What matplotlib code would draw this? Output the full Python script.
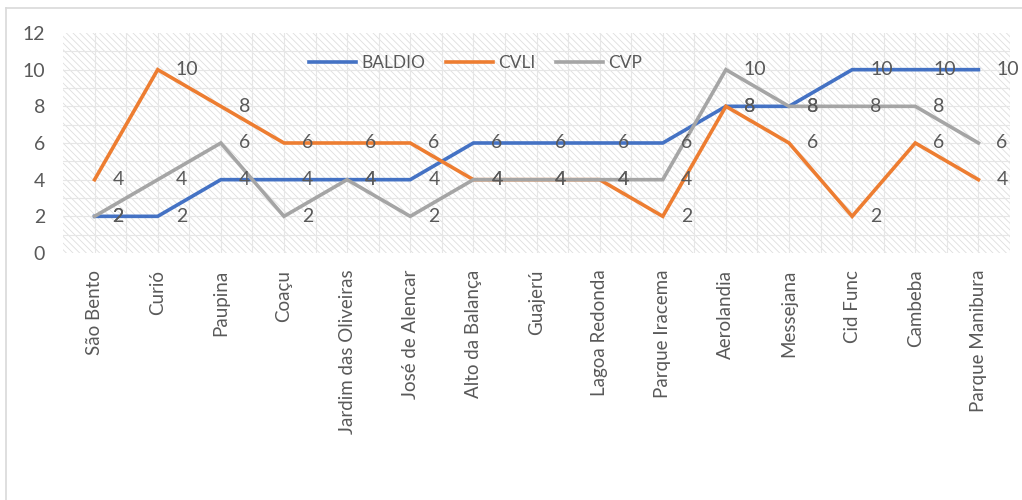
import numpy as np
import matplotlib
matplotlib.use("Agg")
import matplotlib.pyplot as plt
from matplotlib.patches import Rectangle
from matplotlib.lines import Line2D

plt.rcParams['font.family'] = ['Lato', 'DejaVu Sans']
plt.rcParams['hatch.linewidth'] = 0.6

# bairros e contagens por tipo
bairros = ["São Bento", "Curió", "Paupina", "Coaçu", "Jardim das Oliveiras",
           "José de Alencar", "Alto da Balança", "Guajerú", "Lagoa Redonda",
           "Parque Iracema", "Aerolandia", "Messejana", "Cid Func", "Cambeba",
           "Parque Manibura"]
baldio = [2, 2, 4, 4, 4, 4, 6, 6, 6, 6, 8, 8, 10, 10, 10]
cvli = [4, 10, 8, 6, 6, 6, 4, 4, 4, 2, 8, 6, 2, 6, 4]
cvp = [2, 4, 6, 2, 4, 2, 4, 4, 4, 4, 10, 8, 8, 8, 6]

series = [("BALDIO", baldio, "#4472C4"),
          ("CVLI", cvli, "#ED7D31"),
          ("CVP", cvp, "#A5A5A5")]
txt = "#595959"

fig = plt.figure(figsize=(10.22, 5.0), dpi=100)
ax = fig.add_axes([63/1022, 1-253/500, 947/1022, 220/500])

x = np.arange(len(bairros))
ax.set_xlim(-0.5, len(bairros)-0.5)
ax.set_ylim(0, 12)

# fundo hachurado da área de plotagem
ax.add_patch(Rectangle((0, 0), 1, 1, transform=ax.transAxes, facecolor="white",
                       edgecolor="#dedede", lw=0, hatch="\\\\\\\\\\", zorder=0))
for yy in np.arange(1, 12):
    ax.axhline(yy, color="#e6e6e6", lw=0.8, zorder=0.5)
for xx in np.arange(0, len(bairros), 0.5):
    ax.axvline(xx, color="#e6e6e6", lw=0.8, zorder=0.5)

for nome, vals, cor in series:
    ax.plot(x, vals, color=cor, lw=2.6, solid_joinstyle="miter", zorder=3, label=nome)
    for xi, v in zip(x, vals):
        ax.annotate(str(v), (xi, v), xytext=(13, 0), textcoords="offset points",
                    ha="left", va="center", fontsize=14, color=txt, zorder=4)

for s in ax.spines.values():
    s.set_visible(False)
ax.tick_params(length=0, colors=txt, labelsize=14)
ax.tick_params(axis="y", pad=13)
ax.tick_params(axis="x", pad=12)
ax.set_yticks(np.arange(0, 13, 2))
ax.set_xticks(x)
ax.set_xticklabels(bairros, rotation=90, va="top", ha="center", fontsize=13.5)

leg = ax.legend(loc="center", bbox_to_anchor=(0.436, 0.865), ncol=3, frameon=False,
                fontsize=12.5, handlelength=2.7, handletextpad=0.3, columnspacing=1.2)
for t in leg.get_texts():
    t.set_color(txt)

# borda da área do gráfico
fig.add_artist(Line2D([6/1022, 1], [1-8/500, 1-8/500], color="#d9d9d9", lw=1.2))
fig.add_artist(Line2D([6/1022, 6/1022], [0, 1-8/500], color="#d9d9d9", lw=1.2))

fig.savefig("out.png", dpi=100)
